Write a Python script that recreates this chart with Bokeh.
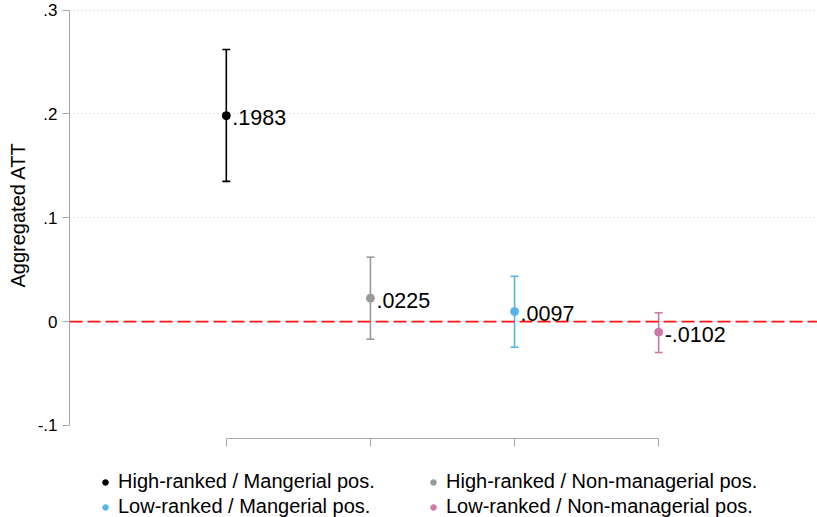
import numpy as np
from bokeh.plotting import figure
from bokeh.models import (ColumnDataSource, Whisker, TeeHead, Span, Legend,
                          LegendItem, FixedTicker, Range1d, Title)
from bokeh.core.properties import value
from bokeh.embed import file_html
from bokeh.resources import INLINE

# Aggregated ATT by subgroup, with 95% confidence bounds
groups = ["High-ranked / Mangerial pos.", "High-ranked / Non-managerial pos.",
          "Low-ranked / Mangerial pos.", "Low-ranked / Non-managerial pos."]
att = [0.1983, 0.0225, 0.0097, -0.0102]
ci_low = [0.135, -0.017, -0.0247, -0.0298]
ci_high = [0.262, 0.062, 0.0436, 0.0085]
colors = ["#000000", "#999999", "#56B4E9", "#CC79A7"]

y_ticks = [-0.1, 0.0, 0.1, 0.2, 0.3]
y_tick_labels = ["-.1", "0", ".1", ".2", ".3"]

FONT = "Liberation Sans"
Y_LO, Y_HI = -0.18864, 0.3053   # frame extends under the legend
X_AXIS_AT = -0.1126             # where the category axis sits


def short_num(v):
    # Stata-style: drop the leading zero (".1983", "-.0102")
    s = f"{v:.4f}"
    return s.replace("0.", ".", 1)


p = figure(width=817, height=517,
           x_range=Range1d(-0.088, 5.102), y_range=Range1d(Y_LO, Y_HI),
           x_axis_location="above",
           output_backend="svg", toolbar_location=None,
           min_border_left=68, min_border_right=0, min_border_top=4,
           min_border_bottom=0)
p.outline_line_color = None
p.background_fill_color = "white"

# grid
p.xgrid.visible = False
p.ygrid.ticker = FixedTicker(ticks=[0.0, 0.1, 0.2, 0.3])
p.ygrid.grid_line_color = "#cccccc"
p.ygrid.grid_line_dash = "1 3"
p.ygrid.grid_line_width = 1

# y axis
yax = p.yaxis[0]
yax.ticker = FixedTicker(ticks=y_ticks)
yax.major_label_overrides = dict(zip(y_ticks, y_tick_labels))
yax.bounds = (-0.1, 0.3)
yax.major_label_text_font = FONT
yax.major_label_text_font_size = "17px"
yax.major_label_text_color = "black"
yax.major_label_orientation = "horizontal"
yax.major_label_standoff = 5
yax.axis_line_color = "#a8a8a8"
yax.major_tick_line_color = "#a8a8a8"
yax.major_tick_out = 7
yax.major_tick_in = 0
yax.minor_tick_line_color = None

# y axis title, placed along the bounded part of the axis
ytitle = Title(text="Aggregated ATT", align="left", offset=230,
               vertical_align="middle",
               text_font=FONT, text_font_size="20px",
               text_font_style="normal", text_color="black", standoff=10)
p.add_layout(ytitle, "left")

# category axis: ticks only, no labels, pinned at the bottom of the panel
xpos = list(range(1, len(groups) + 1))
xax = p.xaxis[0]
xax.fixed_location = X_AXIS_AT
xax.ticker = FixedTicker(ticks=xpos)
xax.major_label_overrides = {t: "" for t in xpos}
xax.major_label_text_font_size = "1px"
xax.major_label_standoff = 0
xax.bounds = (xpos[0], xpos[-1])
xax.axis_line_color = "#a8a8a8"
xax.major_tick_line_color = "#a8a8a8"
xax.major_tick_out = 0
xax.major_tick_in = 8
xax.minor_tick_line_color = None

# zero reference line
p.add_layout(Span(location=0, dimension="width", line_color="#ff1010",
                  line_width=1.6, line_dash="13 5"))

items = []
for i, g in enumerate(groups):
    src = ColumnDataSource(dict(x=[xpos[i]], y=[att[i]], lo=[ci_low[i]],
                                hi=[ci_high[i]], label=[short_num(att[i])]))
    c = colors[i]
    p.add_layout(Whisker(base="x", upper="hi", lower="lo", source=src,
                         dimension="height", line_color=c, line_width=1.6,
                         upper_head=TeeHead(size=8, line_color=c, line_width=1.6),
                         lower_head=TeeHead(size=8, line_color=c, line_width=1.6)))
    r = p.scatter(x="x", y="y", source=src, size=8, marker="circle",
                  fill_color=c, line_color=c)
    p.text(x="x", y="y", text="label", source=src, x_offset=6, y_offset=2,
           text_baseline="middle", text_align="left", text_font_size="21.5px",
           text_font=value(FONT), text_color="black")
    items.append(LegendItem(label=g, renderers=[r]))

legend = Legend(items=items, ncols=2, orientation="horizontal",
                location=(29, -1), glyph_width=14, glyph_height=20,
                label_standoff=6, label_width=306, label_height=20,
                spacing=2, padding=0, margin=0, border_line_color=None,
                background_fill_alpha=0, label_text_font=FONT,
                label_text_font_size="20px", label_text_color="black")
p.add_layout(legend)

open("out.html", "w").write(file_html(p, INLINE))
